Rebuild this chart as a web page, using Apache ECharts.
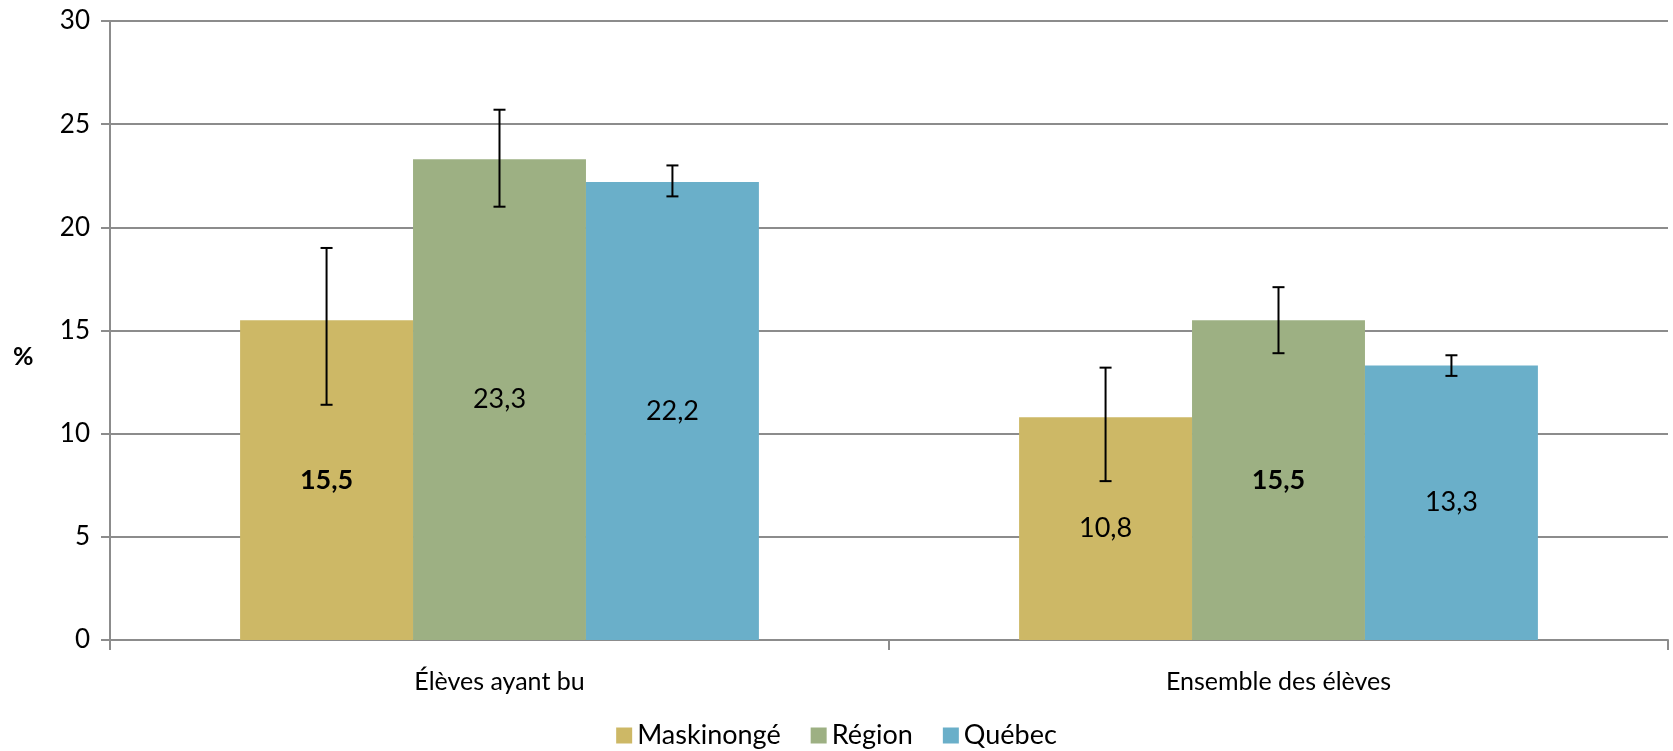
<!DOCTYPE html>
<html>
<head>
<meta charset="utf-8">
<script src="https://cdn.jsdelivr.net/npm/echarts@6/dist/echarts.min.js"></script>
<style>
  html, body { margin: 0; padding: 0; background: #fff; }
  #chart { width: 1673px; height: 751px; }
</style>
</head>
<body>
<div id="chart"></div>
<script>
// catégories et valeurs (%)
const categories = ['Élèves ayant bu', 'Ensemble des élèves'];
const seriesNames = ['Maskinongé', 'Région', 'Québec'];
const maskinonge = [15.5, 10.8];
const region = [23.3, 15.5];
const quebec = [22.2, 13.3];
// intervalles de confiance [bas, haut]
const maskinongeErr = [[11.4, 19.0], [7.7, 13.2]];
const regionErr = [[21.0, 25.7], [13.9, 17.1]];
const quebecErr = [[21.5, 23.0], [12.8, 13.8]];
// valeurs en gras
const maskinongeBold = [true, false];
const regionBold = [false, true];
const quebecBold = [false, false];
const yTicks = [0, 5, 10, 15, 20, 25, 30];

const colors = ['#CDB866', '#9DB083', '#6AAFC9'];
const FONT = 'Lato';
const BAR_W = 0.222;

const chart = echarts.init(document.getElementById('chart'));

function barSeries(name, values, bold, color) {
  return {
    name: name,
    type: 'bar',
    barWidth: (BAR_W * 100) + '%',
    barGap: '0%',
    itemStyle: { color: color },
    data: values.map((v, i) => ({
      value: v,
      label: { fontWeight: bold[i] ? 'bold' : 'normal' }
    })),
    label: {
      show: true,
      position: 'inside',
      color: '#000',
      fontFamily: FONT,
      fontSize: 27,
      formatter: p => String(p.value).replace('.', ',')
    }
  };
}

function errSeries(errs, offset) {
  return {
    type: 'custom',
    silent: true,
    z: 10,
    data: errs.map((e, i) => [i, e[0], e[1]]),
    renderItem: function (params, api) {
      const cat = api.value(0);
      const lo = api.coord([cat, api.value(1)]);
      const hi = api.coord([cat, api.value(2)]);
      const bw = api.size([1, 0])[0] * BAR_W;
      const x = lo[0] + offset * bw;
      const cap = 6;
      const st = { stroke: '#000', lineWidth: 2 };
      return {
        type: 'group',
        children: [
          { type: 'line', shape: { x1: x, y1: lo[1], x2: x, y2: hi[1] }, style: st },
          { type: 'line', shape: { x1: x - cap, y1: lo[1], x2: x + cap, y2: lo[1] }, style: st },
          { type: 'line', shape: { x1: x - cap, y1: hi[1], x2: x + cap, y2: hi[1] }, style: st }
        ]
      };
    }
  };
}

chart.setOption({
  animation: false,
  textStyle: { fontFamily: FONT },
  grid: { left: 110, right: 5, top: 21, bottom: 111 },
  legend: {
    data: seriesNames,
    top: 717,
    left: 'center',
    itemWidth: 16,
    itemHeight: 16,
    itemGap: 30,
    icon: 'rect',
    textStyle: { fontFamily: FONT, fontSize: 27, color: '#000' }
  },
  graphic: [{
    type: 'text',
    left: 13,
    top: 344,
    style: { text: '%', font: 'bold 25px ' + FONT, fill: '#000' }
  }],
  xAxis: {
    type: 'category',
    data: categories,
    axisLine: { lineStyle: { color: '#8c8c8c', width: 2 } },
    axisTick: { show: true, length: 10, lineStyle: { color: '#8c8c8c', width: 2 } },
    axisLabel: { color: '#000', fontSize: 25, fontFamily: FONT, margin: 29 }
  },
  yAxis: {
    type: 'value',
    min: yTicks[0],
    max: yTicks[yTicks.length - 1],
    interval: 5,
    axisLine: { show: true, lineStyle: { color: '#8c8c8c', width: 2 } },
    axisTick: { show: true, length: 9, lineStyle: { color: '#8c8c8c', width: 2 } },
    axisLabel: { color: '#000', fontSize: 26, fontFamily: FONT, margin: 20 },
    splitLine: { lineStyle: { color: '#8c8c8c', width: 2 } }
  },
  series: [
    barSeries(seriesNames[0], maskinonge, maskinongeBold, colors[0]),
    barSeries(seriesNames[1], region, regionBold, colors[1]),
    barSeries(seriesNames[2], quebec, quebecBold, colors[2]),
    errSeries(maskinongeErr, -1),
    errSeries(regionErr, 0),
    errSeries(quebecErr, 1)
  ]
});
</script>
</body>
</html>
